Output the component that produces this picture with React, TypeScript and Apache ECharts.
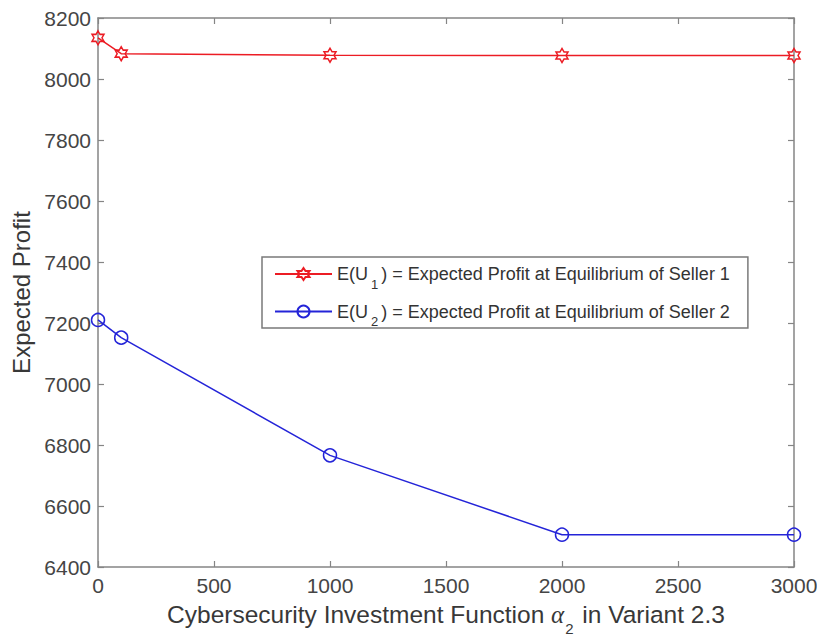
import React, { useEffect, useRef } from "react";
import * as echarts from "echarts";

const xValues = [0, 100, 1000, 2000, 3000];
const seller1 = [8135, 8083, 8078, 8077, 8077];
const seller2 = [7210, 7152, 6766, 6506, 6506];
const seriesNames = ["seller1", "seller2"];
const legendLabels = [
  "{n|E(U}{s|1}{n|) = Expected Profit at Equilibrium of Seller 1}",
  "{n|E(U}{s|2}{n|) = Expected Profit at Equilibrium of Seller 2}",
];
const xTitle = "{n|Cybersecurity Investment Function }{g|α}{s|2}{n| in Variant 2.3}";
const yTitle = "Expected Profit";

const FONT = "'Liberation Sans', Arial, Helvetica, sans-serif";
const AXIS_COLOR = "#858585";
const LABEL_COLOR = "#454545";
const RED = "#ec1c24";
const BLUE = "#2424d8";

const HEXAGRAM =
  "path://M10,0L12.89,5L18.66,5L15.77,10L18.66,15L12.89,15L10,20L7.11,15L1.34,15L4.23,10L1.34,5L7.11,5Z";

export default function App() {
  const ref = useRef<HTMLDivElement>(null);
  useEffect(() => {
    if (!ref.current) return;
    const chart = echarts.init(ref.current, undefined, { renderer: "svg" });
    const axisCommon = {
      type: "value" as const,
      axisLine: { show: true, onZero: false, lineStyle: { color: AXIS_COLOR, width: 1.5 } },
      axisTick: { show: true, inside: true, length: 6, lineStyle: { color: AXIS_COLOR, width: 1.2 } },
      splitLine: { show: false },
    };
    const plain = (v: number) => String(v);
    chart.setOption({
      animation: false,
      backgroundColor: "#ffffff",
      grid: { left: 98, right: 23, top: 18, bottom: 71, containLabel: false, outerBoundsMode: "none" },
      xAxis: [
        {
          ...axisCommon,
          position: "bottom",
          min: 0,
          max: 3000,
          interval: 500,
          axisLabel: { color: LABEL_COLOR, fontSize: 21, fontFamily: FONT, margin: 8, formatter: plain },
          name: xTitle,
          nameLocation: "middle",
          nameGap: 25,
          nameTextStyle: {
            color: "#383838",
            fontFamily: FONT,
            fontSize: 24.5,
            rich: {
              n: { fontSize: 24.5, fontFamily: FONT, color: "#383838" },
              g: { fontSize: 25, fontFamily: "'Liberation Serif', serif", fontStyle: "italic", color: "#383838" },
              s: { fontSize: 15, fontFamily: FONT, color: "#383838", padding: [29, 2, 0, 1] },
            },
          },
        },
        {
          ...axisCommon,
          position: "top",
          min: 0,
          max: 3000,
          interval: 500,
          axisLabel: { show: false },
        },
      ],
      yAxis: [
        {
          ...axisCommon,
          position: "left",
          min: 6400,
          max: 8200,
          interval: 200,
          axisLabel: { color: LABEL_COLOR, fontSize: 21, fontFamily: FONT, margin: 7, formatter: plain },
          name: yTitle,
          nameLocation: "middle",
          nameGap: 62,
          nameTextStyle: { color: "#383838", fontFamily: FONT, fontSize: 24 },
        },
        {
          ...axisCommon,
          position: "right",
          min: 6400,
          max: 8200,
          interval: 200,
          axisLabel: { show: false },
        },
      ],
      legend: {
        orient: "vertical",
        left: 262,
        top: 257,
        padding: [8, 18, 0, 12],
        itemGap: 12,
        itemWidth: 57,
        itemHeight: 15,
        borderColor: "#7a7a7a",
        borderWidth: 1.5,
        backgroundColor: "#ffffff",
        data: seriesNames,
        formatter: (name: string) => legendLabels[seriesNames.indexOf(name)],
        textStyle: {
          fontFamily: FONT,
          fontSize: 18,
          color: "#333333",
          rich: {
            n: { fontSize: 18, fontFamily: FONT, color: "#333333" },
            s: { fontSize: 13, fontFamily: FONT, color: "#333333", padding: [20, 3, 0, 3] },
          },
        },
      },
      series: [
        {
          name: seriesNames[0],
          type: "line",
          data: xValues.map((x, i) => [x, seller1[i]]),
          clip: false,
          color: RED,
          symbol: HEXAGRAM,
          symbolSize: [12, 14],
          lineStyle: { color: RED, width: 1.5 },
          itemStyle: { color: "rgba(255,255,255,0)", borderColor: RED, borderWidth: 1.5 },
        },
        {
          name: seriesNames[1],
          type: "line",
          data: xValues.map((x, i) => [x, seller2[i]]),
          clip: false,
          color: BLUE,
          symbol: "circle",
          symbolSize: 13,
          lineStyle: { color: BLUE, width: 1.5 },
          itemStyle: { color: "rgba(255,255,255,0)", borderColor: BLUE, borderWidth: 1.5 },
        },
      ],
    });
    return () => chart.dispose();
  }, []);
  return (
    <div
      ref={ref}
      style={{ position: "fixed", left: 0, top: 0, width: 817, height: 638, background: "#fff" }}
    />
  );
}
